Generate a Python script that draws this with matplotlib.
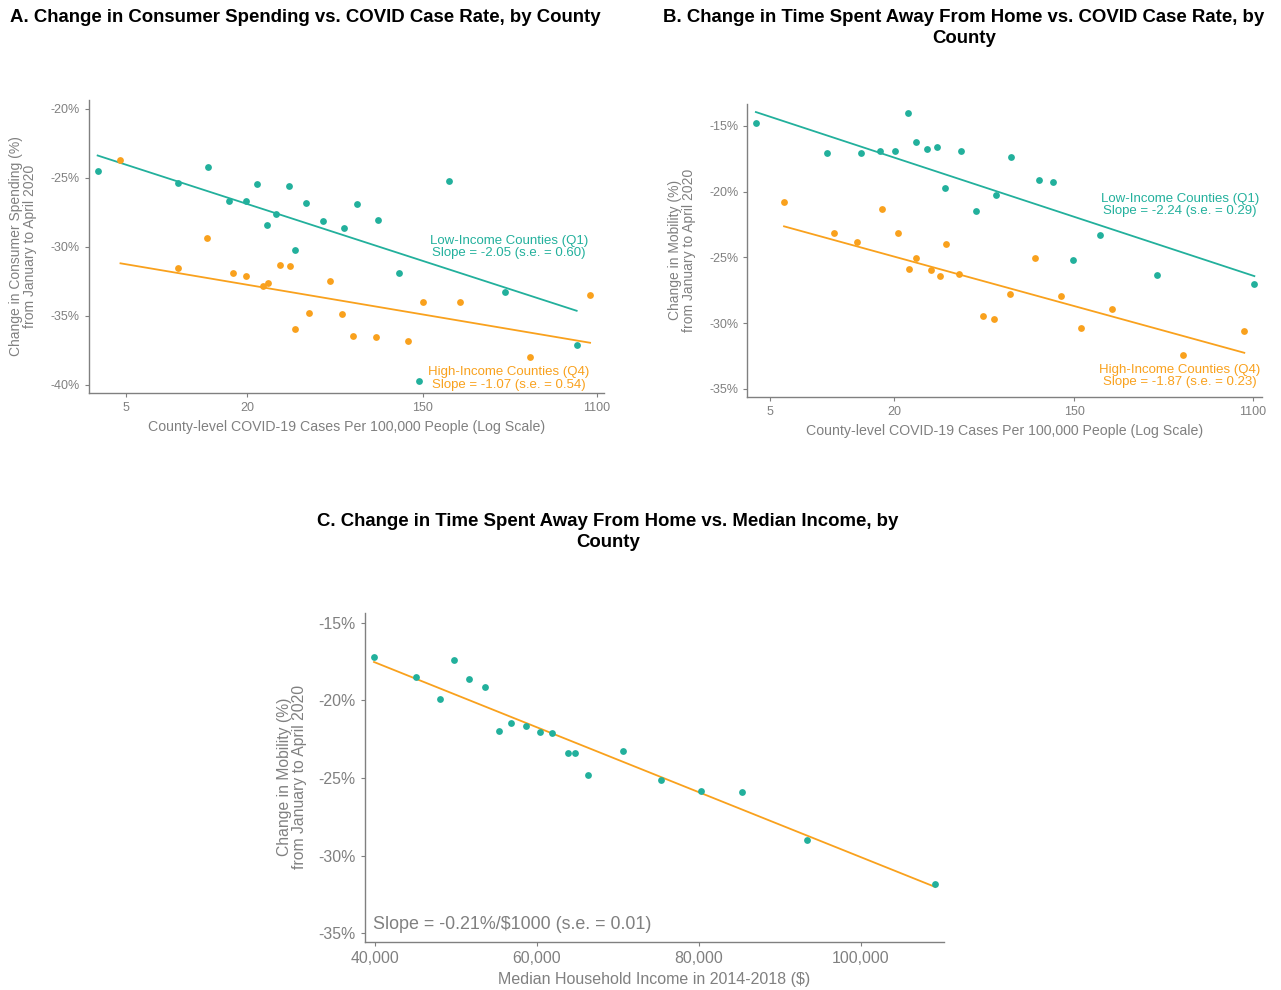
import numpy as np
import matplotlib
matplotlib.use("Agg")
import matplotlib.pyplot as plt

plt.rcParams['font.family'] = ['Liberation Sans', 'DejaVu Sans']

TEAL = '#22B09C'
ORANGE = '#F9A11D'
GRAY = '#808080'

# ---------------- Data ----------------
# Panel A: consumer spending vs case rate
A_low_cases = [3.61, 9.1, 12.8, 16.3, 19.8, 22.4, 25.2, 27.9, 32.4, 34.8, 39.4, 47.6, 60.6,
               70.3, 89.8, 114.3, 143.6, 202.8, 383, 873]
A_low_spend = [-24.49, -25.34, -24.18, -26.64, -26.67, -25.46, -28.41, -27.58, -25.60, -30.19,
               -26.83, -28.09, -28.6, -26.91, -28.02, -31.86, -39.71, -25.22, -33.28, -37.12]
A_high_cases = [4.69, 9.1, 12.65, 17.0, 19.7, 23.9, 25.5, 29.3, 32.6, 34.5, 40.6, 51.9, 59.4,
                67.3, 88.0, 126.5, 150.7, 230, 511, 1018]
A_high_spend = [-23.70, -31.52, -29.35, -31.88, -32.08, -32.8, -32.58, -31.28, -31.38, -35.97,
                -34.75, -32.46, -34.88, -36.45, -36.55, -36.81, -33.99, -34.0, -38.0, -33.5]
A_low_fit = (-20.74, -2.05)    # intercept, slope per ln(cases)
A_high_fit = (-29.53, -1.07)

# Panel B: mobility vs case rate
B_low_cases = [4.27, 9.43, 13.8, 17.0, 20.2, 23.4, 25.7, 28.9, 32.3, 35.5, 42.4, 50.0, 62.5,
               73.9, 100.8, 117.8, 147.8, 200, 376, 1121]
B_low_mob = [-14.79, -17.05, -17.08, -16.88, -16.88, -13.99, -16.24, -16.77, -16.62, -19.69,
             -16.88, -21.44, -20.25, -17.38, -19.13, -19.24, -25.21, -23.31, -26.35, -27.04]
B_high_cases = [5.85, 10.2, 13.2, 17.4, 21.0, 23.6, 25.5, 30.1, 33.4, 35.8, 41.5, 54.3, 61.4,
                73.3, 96.4, 129.3, 161.6, 229, 505, 1002]
B_high_mob = [-20.80, -23.11, -23.80, -21.31, -23.16, -25.87, -25.06, -25.97, -26.38, -23.97,
              -26.28, -29.47, -29.70, -27.80, -25.06, -27.90, -30.39, -28.92, -32.39, -30.57]
B_low_fit = (-10.69, -2.24)
B_high_fit = (-19.33, -1.87)

# Panel C: mobility vs median income
C_income = [39880, 45030, 48030, 49800, 51650, 53630, 55320, 56760, 58650, 60340, 61900,
            63880, 64670, 66350, 70670, 75290, 80230, 85340, 93370, 109220]
C_mob = [-17.19, -18.52, -19.92, -17.40, -18.63, -19.16, -22.0, -21.46, -21.68, -22.04,
         -22.11, -23.42, -23.38, -24.79, -23.29, -25.12, -25.82, -25.93, -29.0, -31.86]
C_fit = (-9.20, -0.209 / 1000)  # intercept, slope per $

case_ticks = [5, 20, 150, 1100]
case_tick_labels = ['5', '20', '150', '1100']
A_yticks = [-20, -25, -30, -35, -40]
B_yticks = [-15, -20, -25, -30, -35]
C_xticks = [40000, 60000, 80000, 100000]
C_xtick_labels = ['40,000', '60,000', '80,000', '100,000']

# ---------------- Figure ----------------
fig = plt.figure(figsize=(12.81, 9.90), dpi=100)


def style(ax, tsize):
    for s in ['top', 'right']:
        ax.spines[s].set_visible(False)
    for s in ['left', 'bottom']:
        ax.spines[s].set_color(GRAY)
        ax.spines[s].set_linewidth(1.0)
    ax.tick_params(colors=GRAY, labelcolor=GRAY, labelsize=tsize, length=3, width=0.8)
    ax.set_facecolor('white')


def pct(ticks):
    return [f'{t}%' for t in ticks]


def fit_line_log(ax, cases, fit, color):
    xs = np.geomspace(min(cases), max(cases), 50)
    ax.plot(xs, fit[0] + fit[1] * np.log(xs), color=color, lw=1.3, zorder=2)


# Panel A
axA = fig.add_axes([89 / 1281, 1 - 393 / 990, 515 / 1281, 293 / 990])
style(axA, 9)
axA.set_xscale('log')
axA.scatter(A_low_cases, A_low_spend, s=24, color=TEAL, zorder=3, linewidths=0)
axA.scatter(A_high_cases, A_high_spend, s=24, color=ORANGE, zorder=3, linewidths=0)
fit_line_log(axA, A_low_cases, A_low_fit, TEAL)
fit_line_log(axA, A_high_cases, A_high_fit, ORANGE)
axA.set_xlim(3.27, 1194)
axA.set_ylim(-40.58, -19.35)
axA.set_xticks(case_ticks)
axA.set_xticklabels(case_tick_labels)
axA.minorticks_off()
axA.set_yticks(A_yticks)
axA.set_yticklabels(pct(A_yticks))
axA.set_xlabel('County-level COVID-19 Cases Per 100,000 People (Log Scale)', color=GRAY,
               fontsize=10.2, labelpad=4.5)
axA.set_ylabel('Change in Consumer Spending (%)\nfrom January to April 2020', color=GRAY,
               fontsize=10, labelpad=10, linespacing=1.0)
axA.text(0.8155, 0.498, 'Low-Income Counties (Q1)\nSlope = -2.05 (s.e. = 0.60)',
         transform=axA.transAxes, ha='center', va='center', color=TEAL, fontsize=9.5,
         linespacing=1.05)
axA.text(0.8155, 0.05, 'High-Income Counties (Q4)\nSlope = -1.07 (s.e. = 0.54)',
         transform=axA.transAxes, ha='center', va='center', color=ORANGE, fontsize=9.5,
         linespacing=1.05)

# Panel B
axB = fig.add_axes([747.3 / 1281, 1 - 396.7 / 990, 514.4 / 1281, 292.7 / 990])
style(axB, 9)
axB.set_xscale('log')
axB.scatter(B_low_cases, B_low_mob, s=24, color=TEAL, zorder=3, linewidths=0)
axB.scatter(B_high_cases, B_high_mob, s=24, color=ORANGE, zorder=3, linewidths=0)
fit_line_log(axB, B_low_cases, B_low_fit, TEAL)
fit_line_log(axB, B_high_cases, B_high_fit, ORANGE)
axB.set_xlim(3.88, 1217)
axB.set_ylim(-35.59, -13.33)
axB.set_xticks(case_ticks)
axB.set_xticklabels(case_tick_labels)
axB.minorticks_off()
axB.set_yticks(B_yticks)
axB.set_yticklabels(pct(B_yticks))
axB.set_xlabel('County-level COVID-19 Cases Per 100,000 People (Log Scale)', color=GRAY,
               fontsize=10.2, labelpad=4.5)
axB.set_ylabel('Change in Mobility (%)\nfrom January to April 2020', color=GRAY,
               fontsize=10, labelpad=9.5, linespacing=1.0)
axB.text(0.8406, 0.654, 'Low-Income Counties (Q1)\nSlope = -2.24 (s.e. = 0.29)',
         transform=axB.transAxes, ha='center', va='center', color=TEAL, fontsize=9.5,
         linespacing=1.05)
axB.text(0.841, 0.0714, 'High-Income Counties (Q4)\nSlope = -1.87 (s.e. = 0.23)',
         transform=axB.transAxes, ha='center', va='center', color=ORANGE, fontsize=9.5,
         linespacing=1.05)

# Panel C
axC = fig.add_axes([364.7 / 1281, 1 - 941.7 / 990, 579.6 / 1281, 329 / 990])
style(axC, 11.4)
axC.scatter(C_income, C_mob, s=24, color=TEAL, zorder=3, linewidths=0)
xs = np.linspace(min(C_income), max(C_income), 50)
axC.plot(xs, C_fit[0] + C_fit[1] * xs, color=ORANGE, lw=1.3, zorder=2)
axC.set_xlim(38730, 110330)
axC.set_ylim(-35.55, -14.36)
axC.set_xticks(C_xticks)
axC.set_xticklabels(C_xtick_labels)
axC.set_yticks(B_yticks)
axC.set_yticklabels(pct(B_yticks))
axC.set_xlabel('Median Household Income in 2014-2018 ($)', color=GRAY, fontsize=11.5,
               labelpad=4.5)
axC.set_ylabel('Change in Mobility (%)\nfrom January to April 2020', color=GRAY,
               fontsize=11.3, labelpad=8, linespacing=1.0)
axC.text(0.0148, 0.051, 'Slope = -0.21%/$1000 (s.e. = 0.01)', transform=axC.transAxes,
         ha='left', va='center', color=GRAY, fontsize=12.9)

# Titles
fig.text(305.5 / 1281, 1 - 17 / 990, 'A. Change in Consumer Spending vs. COVID Case Rate, by County',
         ha='center', va='center', fontsize=13.4, fontweight='bold')
fig.text(964 / 1281, 1 - 28 / 990,
         'B. Change in Time Spent Away From Home vs. COVID Case Rate, by\nCounty',
         ha='center', va='center', fontsize=13.4, fontweight='bold', linespacing=1.33)
fig.text(608 / 1281, 1 - 532 / 990,
         'C. Change in Time Spent Away From Home vs. Median Income, by\nCounty',
         ha='center', va='center', fontsize=13.4, fontweight='bold', linespacing=1.33)

fig.savefig('out.png', dpi=100, facecolor='white')
